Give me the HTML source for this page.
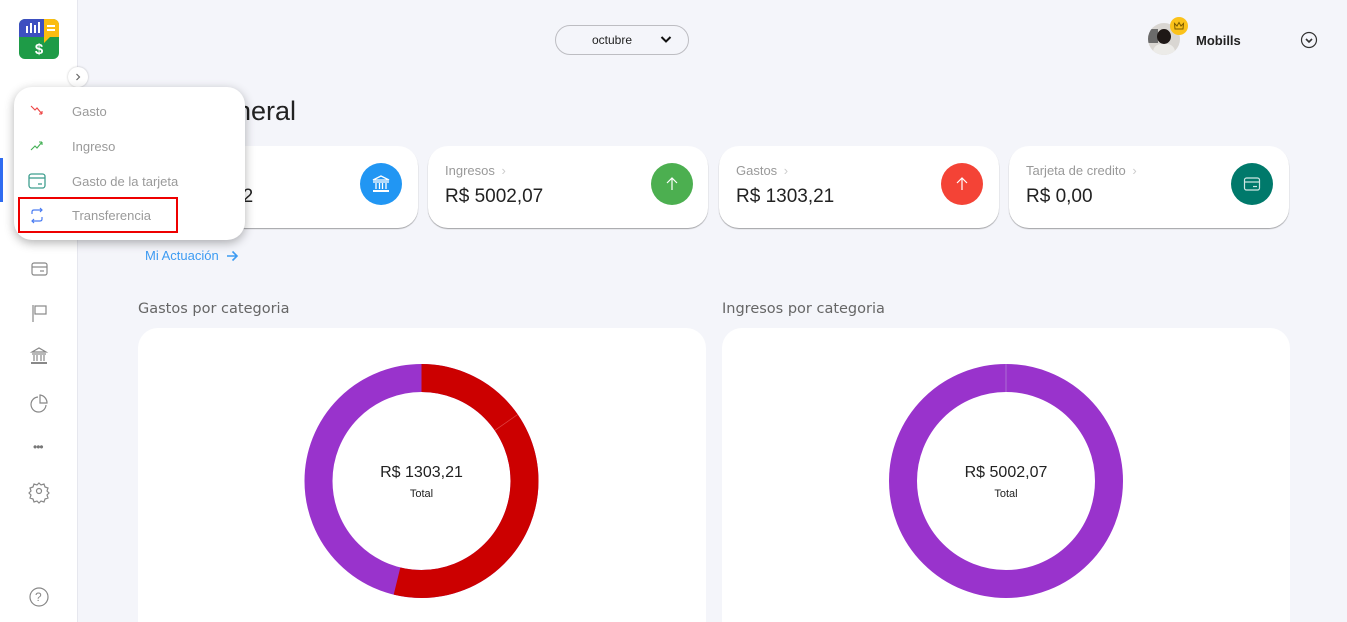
<!DOCTYPE html>
<html><head><meta charset="utf-8">
<style>
*{margin:0;padding:0;box-sizing:border-box}
html,body{width:1347px;height:622px;overflow:hidden;background:#f4f5fa;font-family:"Liberation Sans","DejaVu Sans",sans-serif}
body{position:relative}
.abs{position:absolute}
.t{position:absolute;white-space:nowrap;line-height:1}
.side{position:absolute;left:0;top:0;width:78px;height:622px;background:#fff;border-right:1px solid #e6e7ee}
.card{position:absolute;top:146px;width:280px;height:82px;background:#fff;border-radius:20px;box-shadow:0 1px 1px rgba(0,0,0,.35)}
.circ{position:absolute;width:42px;height:42px;border-radius:50%}
.big{position:absolute;top:328px;width:568px;height:294px;background:#fff;border-radius:20px 20px 0 0}
</style></head><body>

<!-- sidebar -->
<div class="side"></div>
<!-- logo -->
<svg class="abs" style="left:19px;top:19px" width="40" height="40" viewBox="0 0 40 40">
<defs><clipPath id="lc"><rect width="40" height="40" rx="6"/></clipPath></defs>
<g clip-path="url(#lc)">
<rect width="40" height="40" fill="#1e9b47"/>
<rect width="25" height="18" fill="#3d4fc0"/>
<rect x="25" width="15" height="18" fill="#fbbd10"/>
<path d="M25 17 L25 24 L31 18 Z" fill="#fbbd10"/>
<rect x="7" y="7" width="2" height="7" fill="#fff"/><rect x="11" y="4" width="2" height="10" fill="#fff"/><rect x="15" y="6" width="2" height="8" fill="#fff"/><rect x="19" y="3" width="2" height="11" fill="#fff"/>
<rect x="28" y="6" width="8" height="2" fill="#fff"/><rect x="28" y="10" width="8" height="2" fill="#fff"/>
</g>
<text x="20" y="35" font-size="15" font-weight="bold" fill="#fff" text-anchor="middle" font-family="Liberation Sans">$</text>
</svg>
<!-- active indicator -->
<div class="abs" style="left:0;top:158px;width:3px;height:44px;background:#2e6bf0"></div>
<!-- sidebar icons -->
<svg class="abs" style="left:0;top:250px" width="78" height="372" viewBox="0 250 78 372" fill="none" stroke="#888" stroke-width="1.2">
<rect x="32" y="263" width="15" height="12" rx="2"/><line x1="32" y1="267" x2="47" y2="267"/><line x1="40" y1="271" x2="44" y2="271"/>
<line x1="33" y1="305" x2="33" y2="322"/><rect x="35" y="306" width="11" height="8"/>
<path d="M32 352 L39 348 L46 352 Z"/><line x1="32" y1="354" x2="46" y2="354"/><line x1="34" y1="355" x2="34" y2="361"/><line x1="37" y1="355" x2="37" y2="361"/><line x1="41" y1="355" x2="41" y2="361"/><line x1="44" y1="355" x2="44" y2="361"/><line x1="31" y1="363" x2="47" y2="363" stroke-width="2"/>
<path d="M38 397 A7.5 7.5 0 1 0 46 405"/><path d="M40 395 L40 403 L47 403 A8 8 0 0 0 40 395 Z"/>
<circle cx="39" cy="491" r="2.5"/><path d="M39 483 l2 2 3 -1 1 3 3 1 -1 3 2 2 -2 2 1 3 -3 1 -1 3 -3 -1 -2 2 -2 -2 -3 1 -1 -3 -3 -1 1 -3 -2 -2 2 -2 -1 -3 3 -1 1 -3 3 1 z"/>
<circle cx="39" cy="597" r="9"/>
</svg>
<div class="t" style="left:33px;top:441px;font-size:12px;color:#777;letter-spacing:-1px">•••</div>
<div class="t" style="left:35px;top:591px;font-size:12px;color:#888">?</div>

<!-- top bar -->
<div class="abs" style="left:555px;top:25px;width:134px;height:30px;border:1px solid #bdbdc2;border-radius:15px"></div>
<div class="t" style="left:592px;top:34px;font-size:12px;color:#222">octubre</div>
<svg class="abs" style="left:660px;top:35px" width="12" height="10"><path d="M1.5 2 L6 6.5 L10.5 2" stroke="#111" stroke-width="2" fill="none"/></svg>

<div class="abs" style="left:1148px;top:23px;width:32px;height:32px;border-radius:50%;overflow:hidden;background:#d9d6d2">
  <div class="abs" style="left:0;top:6px;width:10px;height:14px;background:#6b6b6b"></div>
  <div class="abs" style="left:9px;top:6px;width:14px;height:15px;border-radius:50%;background:#1e1816"></div>
  <div class="abs" style="left:5px;top:21px;width:22px;height:14px;border-radius:8px 8px 0 0;background:#ecebe8"></div>
</div>
<div class="abs" style="left:1170px;top:17px;width:18px;height:18px;border-radius:50%;background:#fbc21a"></div>
<svg class="abs" style="left:1173px;top:20px" width="12" height="12"><path d="M2 9 L1.5 3.5 L4 6 L6 2.5 L8 6 L10.5 3.5 L10 9 Z" fill="none" stroke="#7a5a00" stroke-width="1"/></svg>
<div class="t" style="left:1196px;top:34px;font-size:13px;font-weight:bold;color:#222">Mobills</div>
<svg class="abs" style="left:1300px;top:31px" width="18" height="18"><circle cx="9" cy="9" r="7.5" fill="none" stroke="#333" stroke-width="1.2"/><path d="M6 8 L9 11 L12 8" fill="none" stroke="#333" stroke-width="1.6"/></svg>

<!-- title -->
<div class="t" style="right:1051px;top:98px;font-size:27px;color:#222">Visión general</div>

<!-- cards -->
<div class="card" style="left:138px"></div>
<div class="t" style="left:155px;top:164px;font-size:13px;color:#999">Saldo</div>
<div class="t" style="left:155px;top:187px;font-size:19px;color:#222">R$ 3698,82</div>
<div class="circ" style="left:360px;top:163px;background:#2196f3"></div>
<svg class="abs" style="left:371px;top:174px" width="20" height="20"><g fill="none" stroke="#fff" stroke-width="1.3"><path d="M2 6 L10 2 L18 6 Z"/><line x1="2" y1="8" x2="18" y2="8"/><line x1="5" y1="9" x2="5" y2="15"/><line x1="8.5" y1="9" x2="8.5" y2="15"/><line x1="11.5" y1="9" x2="11.5" y2="15"/><line x1="15" y1="9" x2="15" y2="15"/><line x1="2" y1="17" x2="18" y2="17" stroke-width="2"/></g></svg>

<div class="card" style="left:428px"></div>
<div class="t" style="left:445px;top:164px;font-size:13px;color:#999">Ingresos <span style="color:#ccc;margin-left:3px">›</span></div>
<div class="t" style="left:445px;top:187px;font-size:19px;color:#222">R$ 5002,07</div>
<div class="circ" style="left:651px;top:163px;background:#4caf50"></div>
<svg class="abs" style="left:662px;top:174px" width="20" height="20"><path d="M10 16 L10 4 M5 9 L10 4 L15 9" fill="none" stroke="#fff" stroke-width="1.2"/></svg>

<div class="card" style="left:719px"></div>
<div class="t" style="left:736px;top:164px;font-size:13px;color:#999">Gastos <span style="color:#ccc;margin-left:3px">›</span></div>
<div class="t" style="left:736px;top:187px;font-size:19px;color:#222">R$ 1303,21</div>
<div class="circ" style="left:941px;top:163px;background:#f44336"></div>
<svg class="abs" style="left:952px;top:174px" width="20" height="20"><path d="M10 16 L10 4 M5 9 L10 4 L15 9" fill="none" stroke="#fff" stroke-width="1.2"/></svg>

<div class="card" style="left:1009px"></div>
<div class="t" style="left:1026px;top:164px;font-size:13px;color:#999">Tarjeta de credito <span style="color:#ccc;margin-left:3px">›</span></div>
<div class="t" style="left:1026px;top:187px;font-size:19px;color:#222">R$ 0,00</div>
<div class="circ" style="left:1231px;top:163px;background:#00796b"></div>
<svg class="abs" style="left:1242px;top:174px" width="20" height="20"><g fill="none" stroke="#cfe7e3" stroke-width="1.2"><rect x="2.5" y="4" width="15" height="12" rx="2"/><line x1="2.5" y1="8" x2="17.5" y2="8"/><line x1="11" y1="12.5" x2="15" y2="12.5"/></g></svg>

<div class="t" style="left:145px;top:249px;font-size:13px;color:#3d9bf2">Mi Actuación</div>
<svg class="abs" style="left:225px;top:249px" width="14" height="14"><path d="M2 7 L12 7 M7.5 2.5 L12 7 L7.5 11.5" fill="none" stroke="#3d9bf2" stroke-width="1.6"/></svg>

<div class="t" style="left:138px;top:302px;font-size:14.5px;color:#666;font-family:'DejaVu Sans',sans-serif">Gastos por categoria</div>
<div class="t" style="left:722px;top:302px;font-size:14.5px;color:#666;font-family:'DejaVu Sans',sans-serif">Ingresos por categoria</div>

<div class="big" style="left:138px"></div>
<div class="big" style="left:722px"></div>

<svg class="abs" style="left:0;top:0" width="1347" height="622">
<circle cx="421.5" cy="481" r="103" fill="none" stroke="#9933cc" stroke-width="28"/>
<circle cx="421.5" cy="481" r="103" fill="none" stroke="#cc0000" stroke-width="28" stroke-dasharray="348.2 1000" transform="rotate(-90 421.5 481)"/>
<line x1="494.7" y1="430.4" x2="517.7" y2="414.5" stroke="#e04444" stroke-width="0.7"/>
<circle cx="1006" cy="481" r="103" fill="none" stroke="#9933cc" stroke-width="28"/>
<line x1="1006" y1="364" x2="1006" y2="392" stroke="#b27ad6" stroke-width="0.8"/>
</svg>
<div class="t" style="left:321.5px;width:200px;text-align:center;top:465px;font-size:16px;color:#222">R$ 1303,21</div>
<div class="t" style="left:321.5px;width:200px;text-align:center;top:489px;font-size:11px;color:#222">Total</div>
<div class="t" style="left:906px;width:200px;text-align:center;top:465px;font-size:16px;color:#222">R$ 5002,07</div>
<div class="t" style="left:906px;width:200px;text-align:center;top:489px;font-size:11px;color:#222">Total</div>

<!-- collapse toggle -->
<div class="abs" style="left:68px;top:67px;width:20px;height:20px;border-radius:50%;background:#fff;box-shadow:0 0 2px rgba(0,0,0,.25)"></div>
<svg class="abs" style="left:74px;top:73px" width="8" height="8"><path d="M2.5 1 L5.5 4 L2.5 7" fill="none" stroke="#666" stroke-width="1.2"/></svg>

<!-- popup menu -->
<div class="abs" style="left:14px;top:87px;width:231px;height:153px;background:#fff;border-radius:18px;box-shadow:0 3px 10px rgba(0,0,0,.3)"></div>
<svg class="abs" style="left:28px;top:100px" width="20" height="130" viewBox="28 100 20 130" fill="none">
<path d="M31 106 L35 110 L37 108 L42 114 M42 114 L42 111 M42 114 L39 114" stroke="#ee4444" stroke-width="1.1"/>
<path d="M31 150 L35 146 L37 148 L42 142 M42 142 L39 142 M42 142 L42 145" stroke="#44b055" stroke-width="1.1"/>
<rect x="29" y="174" width="16" height="14" rx="2.5" stroke="#3f9f8f" stroke-width="1.3"/><line x1="29" y1="178" x2="45" y2="178" stroke="#3f9f8f" stroke-width="1.3"/><line x1="38" y1="184" x2="42" y2="184" stroke="#3f9f8f" stroke-width="1.3"/>
<path d="M32 214 L32 212 Q32 210 34 210 L42 210 M40 208 L42 210 L40 212 M42 217 L42 219 Q42 221 40 221 L32 221 M34 219 L32 221 L34 223" stroke="#4a7cf2" stroke-width="1.2"/>
</svg>
<div class="t" style="left:72px;top:105px;font-size:13px;color:#9a9a9a">Gasto</div>
<div class="t" style="left:72px;top:140px;font-size:13px;color:#9a9a9a">Ingreso</div>
<div class="t" style="left:72px;top:175px;font-size:13px;color:#9a9a9a">Gasto de la tarjeta</div>
<div class="t" style="left:72px;top:209px;font-size:13px;color:#9a9a9a">Transferencia</div>
<div class="abs" style="left:18px;top:197px;width:160px;height:36px;border:2px solid #ee0000"></div>

</body></html>
